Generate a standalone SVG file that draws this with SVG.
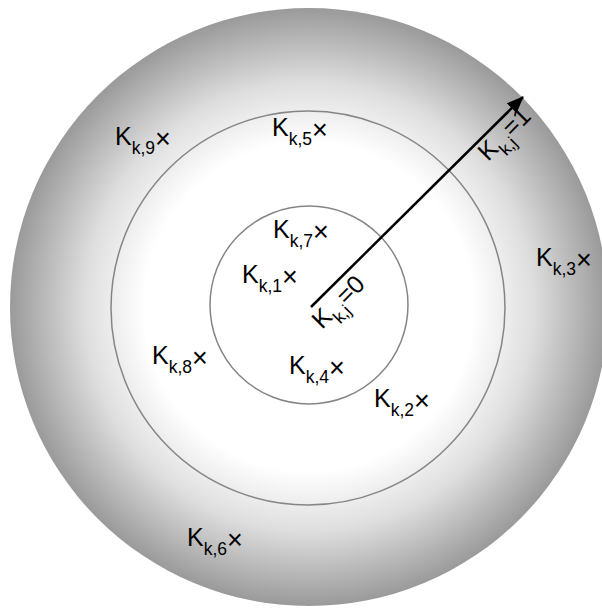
<svg xmlns="http://www.w3.org/2000/svg" width="602" height="610" viewBox="0 0 602 610">
<style>
.ring{fill:none;stroke:#858585;stroke-width:1.5}
.lbl{font-family:"Liberation Sans",Arial,sans-serif;font-size:25px;fill:#000}
.sub{font-size:17.5px}
.x{font-size:27px}
.arrow{stroke:#000;stroke-width:2.5;fill:none}
</style>
<defs>
<radialGradient id="bg" gradientUnits="userSpaceOnUse" cx="309" cy="307" r="299">
<stop offset="0" stop-color="#ffffff"/>
<stop offset="0.55" stop-color="#ffffff"/>
<stop offset="0.75" stop-color="#dedede"/>
<stop offset="1" stop-color="#9a9a9a"/>
</radialGradient>
<marker id="head" markerUnits="userSpaceOnUse" markerWidth="20" markerHeight="16" refX="16" refY="7" orient="auto">
<path d="M0,0 L17,7 L0,14 Z" fill="#000"/>
</marker>
</defs>
<g id="outer"><circle cx="309" cy="307" r="299" fill="url(#bg)"/></g>
<g id="middle"><circle class="ring" cx="308" cy="308" r="197"/></g>
<g id="inner"><circle class="ring" cx="309" cy="305" r="99"/></g>
<g id="connectors">
<line class="arrow" x1="311" y1="307" x2="523" y2="97" marker-end="url(#head)"/>
</g>
<g id="lbl-j0" transform="translate(322,330) rotate(-45)"><text class="lbl" x="0" y="0">K<tspan class="sub" dy="9">k,j</tspan><tspan dy="-9">=0</tspan></text></g>
<g id="lbl-j1" transform="translate(488,162) rotate(-45)"><text class="lbl" x="0" y="0">K<tspan class="sub" dy="9">k,j</tspan><tspan dy="-9">=1</tspan></text></g>
<g id="k9"><text class="lbl" x="115" y="145">K<tspan class="sub" dy="9">k,9</tspan><tspan class="x" dy="-6">×</tspan></text></g>
<g id="k5"><text class="lbl" x="272" y="136">K<tspan class="sub" dy="9">k,5</tspan><tspan class="x" dy="-6">×</tspan></text></g>
<g id="k7"><text class="lbl" x="273" y="238">K<tspan class="sub" dy="9">k,7</tspan><tspan class="x" dy="-6">×</tspan></text></g>
<g id="k1"><text class="lbl" x="242" y="283">K<tspan class="sub" dy="9">k,1</tspan><tspan class="x" dy="-6">×</tspan></text></g>
<g id="k3"><text class="lbl" x="536" y="266">K<tspan class="sub" dy="9">k,3</tspan><tspan class="x" dy="-6">×</tspan></text></g>
<g id="k8"><text class="lbl" x="152" y="364">K<tspan class="sub" dy="9">k,8</tspan><tspan class="x" dy="-6">×</tspan></text></g>
<g id="k4"><text class="lbl" x="289" y="374">K<tspan class="sub" dy="9">k,4</tspan><tspan class="x" dy="-6">×</tspan></text></g>
<g id="k2"><text class="lbl" x="374" y="407">K<tspan class="sub" dy="9">k,2</tspan><tspan class="x" dy="-6">×</tspan></text></g>
<g id="k6"><text class="lbl" x="187" y="546">K<tspan class="sub" dy="9">k,6</tspan><tspan class="x" dy="-6">×</tspan></text></g>
</svg>
